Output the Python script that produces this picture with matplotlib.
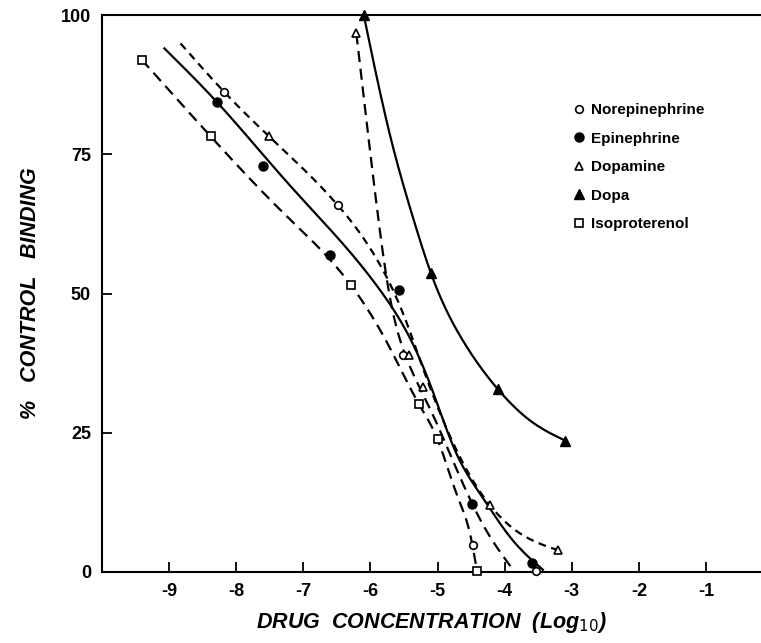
import numpy as np
import matplotlib
matplotlib.use("Agg")
import matplotlib.pyplot as plt

# ---------------- data ----------------
# measured points (log10 drug concentration, % control binding)
norepi_x = [-8.18, -6.49, -5.51, -4.47, -3.54]
norepi_y = [86.2, 65.9, 39.0, 4.8, 0.2]
epi_x = [-8.29, -7.60, -6.60, -5.58, -4.48, -3.59]
epi_y = [84.4, 72.9, 56.9, 50.6, 12.2, 1.7]
dopamine_x = [-7.51, -6.21, -5.42, -5.22, -4.22, -3.20]
dopamine_y = [78.2, 96.7, 39.0, 33.3, 12.0, 3.9]
dopa_x = [-6.10, -5.10, -4.10, -3.10]
dopa_y = [100.0, 53.7, 32.8, 23.6]
iso_x = [-9.41, -8.38, -6.29, -5.28, -5.00, -4.41]
iso_y = [92.0, 78.2, 51.5, 30.2, 23.8, 0.2]

# hand-drawn curves
curve_solid_x = [-9.07, -8.29, -7.20, -5.82, -5.42, -5.12, -4.72, -4.37, -3.88, -3.43]
curve_solid_y = [94.0, 84.4, 69.4, 50.0, 42.2, 34.0, 21.3, 14.1, 5.7, 0.4]
curve_short_x = [-8.83, -8.18, -7.51, -6.49, -5.85, -5.50, -5.20, -4.80, -4.40, -4.22, -3.78, -3.20]
curve_short_y = [94.9, 86.2, 78.2, 65.9, 55.0, 46.0, 36.0, 24.0, 15.0, 12.0, 7.0, 3.9]
curve_steep_x = [-6.21, -5.95, -5.72, -5.45, -5.10, -4.70, -4.30, -3.90]
curve_steep_y = [96.7, 70.0, 50.0, 38.0, 29.0, 18.0, 8.0, 0.8]
curve_iso_x = [-9.41, -8.38, -7.30, -6.29, -5.70, -5.28, -5.00, -4.70, -4.50, -4.41]
curve_iso_y = [92.0, 78.2, 64.5, 51.5, 40.0, 30.2, 23.8, 13.5, 6.0, 0.0]
curve_dopa_x = [-6.10, -5.72, -5.35, -5.10, -4.62, -4.10, -3.60, -3.10]
curve_dopa_y = [100.0, 79.0, 63.0, 53.7, 41.5, 32.8, 27.0, 23.6]

x_ticks = [-9, -8, -7, -6, -5, -4, -3, -2, -1]
y_ticks = [0, 25, 50, 75, 100]


def smooth(xs, ys, n=400):
    """Natural cubic spline rendering of a hand-drawn curve through traced vertices."""
    x = np.asarray(xs, float)
    y = np.asarray(ys, float)
    k = len(x)
    h = np.diff(x)
    A = np.zeros((k, k))
    b = np.zeros(k)
    A[0, 0] = A[-1, -1] = 1.0
    for i in range(1, k - 1):
        A[i, i - 1] = h[i - 1]
        A[i, i] = 2 * (h[i - 1] + h[i])
        A[i, i + 1] = h[i]
        b[i] = 6 * ((y[i + 1] - y[i]) / h[i] - (y[i] - y[i - 1]) / h[i - 1])
    M = np.linalg.solve(A, b)
    xx = np.linspace(x[0], x[-1], n)
    j = np.clip(np.searchsorted(x, xx) - 1, 0, k - 2)
    hj = h[j]
    a = (x[j + 1] - xx) / hj
    c = (xx - x[j]) / hj
    yy = (a * y[j] + c * y[j + 1]
          + ((a ** 3 - a) * M[j] + (c ** 3 - c) * M[j + 1]) * hj ** 2 / 6)
    return xx, yy


plt.rcParams["font.family"] = ["Liberation Sans", "DejaVu Sans"]

fig = plt.figure(figsize=(7.61, 6.43), dpi=100)
ax = fig.add_axes([102 / 761, 1 - 572 / 643, 1 - 102 / 761, (572 - 15) / 643])

lw = 1.6
cx, cy = smooth(curve_solid_x, curve_solid_y)
ax.plot(cx, cy, color="black", lw=lw)
cx, cy = smooth(curve_dopa_x, curve_dopa_y)
ax.plot(cx, cy, color="black", lw=lw, clip_on=False)
cx, cy = smooth(curve_short_x, curve_short_y)
ax.plot(cx, cy, color="black", lw=lw, dashes=(3.5, 2.5))
cx, cy = smooth(curve_steep_x, curve_steep_y)
ax.plot(cx, cy, color="black", lw=lw, dashes=(5, 3))
cx, cy = smooth(curve_iso_x, curve_iso_y)
ax.plot(cx, cy, color="black", lw=lw, dashes=(5, 3))

ms = 5.5
ax.plot(norepi_x, norepi_y, ls="none", marker="o", ms=ms, mfc="white", mec="black",
        mew=1.2, clip_on=False, zorder=5, label="Norepinephrine")
ax.plot(epi_x, epi_y, ls="none", marker="o", ms=ms + 1, mfc="black", mec="black",
        clip_on=False, zorder=5, label="Epinephrine")
ax.plot(dopamine_x, dopamine_y, ls="none", marker="^", ms=ms, mfc="white", mec="black",
        mew=1.2, clip_on=False, zorder=5, label="Dopamine")
ax.plot(dopa_x, dopa_y, ls="none", marker="^", ms=ms + 1, mfc="black", mec="black",
        clip_on=False, zorder=5, label="Dopa")
ax.plot(iso_x, iso_y, ls="none", marker="s", ms=ms, mfc="white", mec="black",
        mew=1.2, clip_on=False, zorder=5, label="Isoproterenol")

ax.set_xlim(-10.0, -0.18)
ax.set_ylim(0, 100)
ax.set_xticks(x_ticks)
ax.set_yticks(y_ticks)
ax.set_xticklabels([str(v) for v in x_ticks])
ax.set_yticklabels([str(v) for v in y_ticks])
ax.tick_params(direction="in", length=7, width=1.3, labelsize=13, pad=8)
for lab in ax.get_xticklabels() + ax.get_yticklabels():
    lab.set_fontweight("bold")
ax.spines["right"].set_visible(False)
for s in ("left", "top", "bottom"):
    ax.spines[s].set_linewidth(1.5)

ax.set_xlabel(r"DRUG  CONCENTRATION  (Log$_{\mathit{10}}$)", fontsize=15.5,
              fontweight="bold", fontstyle="italic", labelpad=7)
ax.set_ylabel("%   CONTROL   BINDING", fontsize=15.5, fontweight="bold",
              fontstyle="italic", labelpad=14)

leg = ax.legend(loc="upper left", bbox_to_anchor=(0.703, 0.853), frameon=False,
                fontsize=11, handletextpad=0.3, labelspacing=0.95,
                handlelength=1.0, borderaxespad=0)
for t in leg.get_texts():
    t.set_fontweight("bold")

fig.savefig("out.png", dpi=100)
